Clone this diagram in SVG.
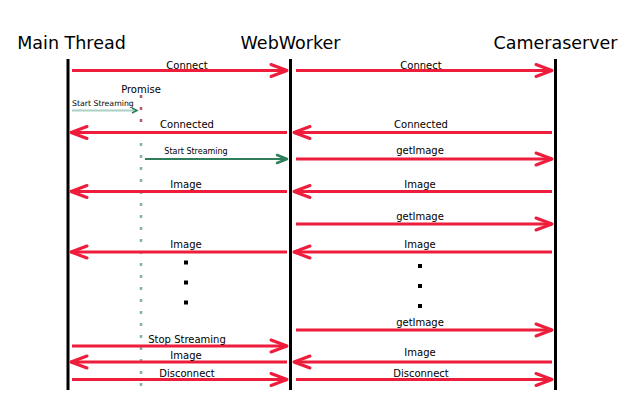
<svg xmlns="http://www.w3.org/2000/svg" width="640" height="400" viewBox="0 0 640 400">
<defs>
<style>
.title{font-family:"DejaVu Sans",Verdana,sans-serif;font-size:17.5px;fill:#000;text-anchor:middle}
.lbl{font-family:"DejaVu Sans",Verdana,sans-serif;font-size:10px;fill:#000;text-anchor:middle}
.sm{font-family:"DejaVu Sans",Verdana,sans-serif;font-size:8px;fill:#000;text-anchor:middle}
.life{stroke:#000;stroke-width:3;fill:none}
.msg{stroke:#ee1d3c;stroke-width:3;fill:none;marker-end:url(#ah)}
.grn{stroke:#2e7d5b;stroke-width:2.2;fill:none;marker-end:url(#ahg)}
</style>
<marker id="ah" markerUnits="userSpaceOnUse" markerWidth="22" markerHeight="18" viewBox="0 0 22 18" refX="19" refY="9" orient="auto">
<path d="M3,3 L19,9 L3,15" fill="none" stroke="#ee1d3c" stroke-width="3" stroke-linecap="round" stroke-linejoin="round"/>
</marker>
<marker id="ahg" markerUnits="userSpaceOnUse" markerWidth="16" markerHeight="14" viewBox="0 0 16 14" refX="13" refY="7" orient="auto">
<path d="M3,3 L13,7 L3,11" fill="none" stroke="#2e7d5b" stroke-width="2.5" stroke-linecap="round" stroke-linejoin="round"/>
</marker>
<marker id="ahs" markerUnits="userSpaceOnUse" markerWidth="8" markerHeight="8" viewBox="0 0 8 8" refX="6" refY="4" orient="auto">
<path d="M1,1.5 L6,4 L1,6.5" fill="none" stroke="#2e7d5b" stroke-width="1.5"/>
</marker>
</defs>

<g id="main-thread">
<text class="title" x="71.5" y="49">Main Thread</text>
<line class="life" x1="68" y1="59" x2="68" y2="390"/>
</g>
<g id="webworker">
<text class="title" x="290.5" y="49">WebWorker</text>
<line class="life" x1="290.5" y1="59" x2="290.5" y2="390"/>
</g>
<g id="cameraserver">
<text class="title" x="555.5" y="49">Cameraserver</text>
<line class="life" x1="555.5" y1="59" x2="555.5" y2="390"/>
</g>
<g id="promise">
<text class="lbl" x="141" y="93">Promise</text>
<line x1="141" y1="95" x2="141" y2="134" stroke="#b05a66" stroke-width="2.5" stroke-dasharray="3 9"/>
<line x1="141" y1="143" x2="141" y2="387" stroke="#7fb3a5" stroke-width="2.5" stroke-dasharray="3 9"/>
</g>

<g id="connectors">
<line class="msg" x1="72" y1="70.5" x2="287" y2="70.5"/>
<text class="lbl" x="187" y="68.5">Connect</text>
<line class="msg" x1="296" y1="70.5" x2="552" y2="70.5"/>
<text class="lbl" x="421" y="68.5">Connect</text>

<line x1="72" y1="110.5" x2="137" y2="110.5" stroke="#a9d2c4" stroke-width="2" marker-end="url(#ahs)"/>
<text class="sm" x="72" y="106" style="text-anchor:start;font-size:7.8px">Start Streaming</text>

<line class="msg" x1="287" y1="132.5" x2="71" y2="132.5"/>
<text class="lbl" x="187" y="128">Connected</text>
<line class="msg" x1="552" y1="132.5" x2="294" y2="132.5"/>
<text class="lbl" x="421" y="128">Connected</text>

<line class="grn" x1="145" y1="159" x2="287" y2="159"/>
<text class="sm" x="196" y="154">Start Streaming</text>
<line class="msg" x1="296" y1="159" x2="552" y2="159"/>
<text class="lbl" x="420" y="154">getImage</text>

<line class="msg" x1="287" y1="191.5" x2="71" y2="191.5"/>
<text class="lbl" x="186" y="187.5">Image</text>
<line class="msg" x1="552" y1="191.5" x2="294" y2="191.5"/>
<text class="lbl" x="420" y="187.5">Image</text>

<line class="msg" x1="296" y1="224" x2="552" y2="224"/>
<text class="lbl" x="420" y="219.5">getImage</text>

<line class="msg" x1="287" y1="252" x2="71" y2="252"/>
<text class="lbl" x="186" y="247.5">Image</text>
<line class="msg" x1="552" y1="252" x2="294" y2="252"/>
<text class="lbl" x="420" y="247.5">Image</text>

<line class="msg" x1="296" y1="330" x2="552" y2="330"/>
<text class="lbl" x="420" y="325.5">getImage</text>

<line class="msg" x1="72" y1="346" x2="287" y2="346"/>
<text class="lbl" x="187" y="342.5">Stop Streaming</text>

<line class="msg" x1="287" y1="362" x2="71" y2="362"/>
<text class="lbl" x="186" y="358.5">Image</text>
<line class="msg" x1="552" y1="362" x2="294" y2="362"/>
<text class="lbl" x="420" y="356">Image</text>

<line class="msg" x1="72" y1="379.5" x2="287" y2="379.5"/>
<text class="lbl" x="187" y="376.5">Disconnect</text>
<line class="msg" x1="296" y1="379.5" x2="552" y2="379.5"/>
<text class="lbl" x="421" y="376.5">Disconnect</text>
</g>

<g id="ellipsis" fill="#000">
<rect x="184" y="260.5" width="4" height="4"/>
<rect x="184" y="280.5" width="4" height="4"/>
<rect x="184" y="300.5" width="4" height="4"/>
<rect x="418" y="264" width="4" height="4"/>
<rect x="418" y="284" width="4" height="4"/>
<rect x="418" y="304" width="4" height="4"/>
</g>
</svg>
